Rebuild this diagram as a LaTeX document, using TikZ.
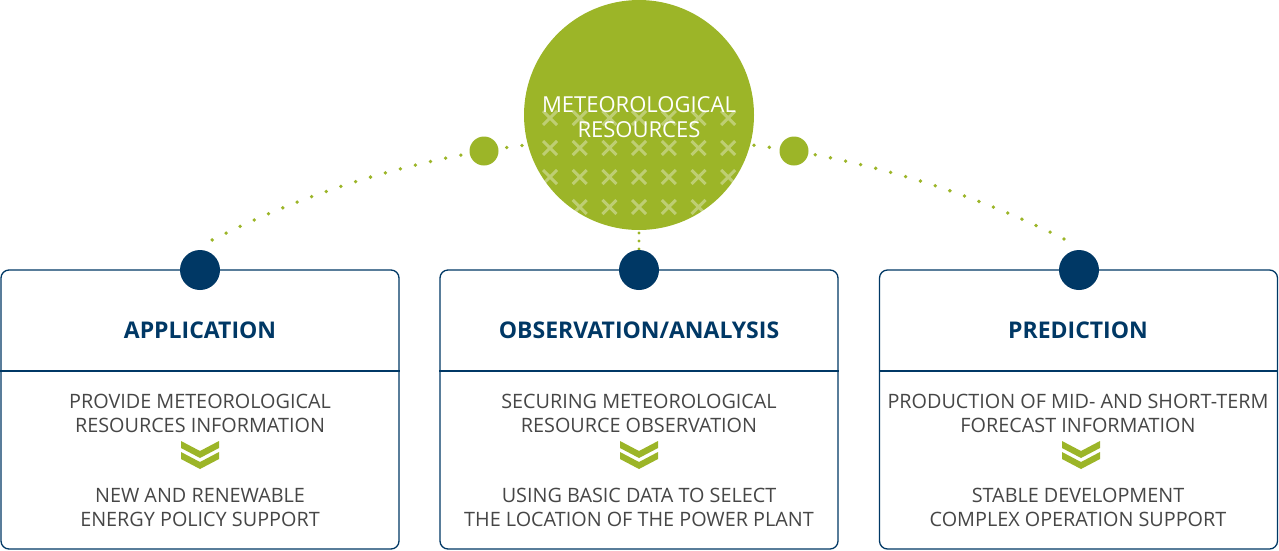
\documentclass[tikz,border=0pt]{standalone}
\usepackage{fontspec}
\setmainfont{Open Sans}
\definecolor{leaf}{RGB}{156,181,40}
\definecolor{navy}{RGB}{0,56,101}
\definecolor{txtgray}{RGB}{70,70,70}
\tikzset{
  card/.style={draw=navy, line width=1.3pt, rounded corners=8pt, fill=white, minimum width=398pt, minimum height=279pt, inner sep=0pt},
  navydot/.style={circle, fill=navy, minimum size=40pt, inner sep=0pt},
  leafdot/.style={circle, fill=leaf, minimum size=29pt, inner sep=0pt},
  bigdot/.style={circle, fill=leaf, minimum size=230pt, inner sep=0pt},
  dotline/.style={draw=leaf, line width=3.8pt, line cap=round, dash pattern=on 0pt off 15.5pt},
  title/.style={anchor=base, text=navy, font=\fontsize{23}{24}\selectfont\bfseries, inner sep=0pt},
  body/.style={anchor=base, text=txtgray, font=\fontsize{19.8}{24}\selectfont, inner sep=0pt},
  ctext/.style={anchor=base, text=white, font=\fontsize{22}{24}\selectfont, inner sep=0pt},
  chev/.style={fill=leaf, draw=none},
  cross/.style={draw=white, draw opacity=0.35, line width=3pt}
}
\begin{document}
\begin{tikzpicture}[x=1pt,y=-1pt]
\useasboundingbox (0,0) rectangle (1279,550);
% dotted arc (behind everything)
\coordinate (arcL) at (212,240);
\coordinate (arcR) at (1068,242);
\draw[dotline] plot[domain=243.2:297, samples=200] ({639+946.6*cos(\x)},{1084.8+946.6*sin(\x)});
% big circle
\node[bigdot] (res) at (639,115) {};
\foreach \r/\y in {0/118,1/148,2/177,3/207}{
  \foreach \i in {0,...,6}{
    \pgfmathsetmacro{\xx}{550+29.7*\i}
    \ifnum\r=3 \ifnum\i>0 \ifnum\i<6
      \draw[cross] (\xx-7,\y-7) -- (\xx+7,\y+7) (\xx-7,\y+7) -- (\xx+7,\y-7);
    \fi\fi
    \else
      \draw[cross] (\xx-7,\y-7) -- (\xx+7,\y+7) (\xx-7,\y+7) -- (\xx+7,\y-7);
    \fi
  }
}
\node[ctext] (res1) at (639,112) {METEOROLOGICAL};
\node[ctext] (res2) at (639,137) {RESOURCES};
% small green dots on arc
\node[leafdot] (gl) at (484,151) {};
\node[leafdot] (gr) at (794,151) {};
% cards
\node[card] (c1) at (200,409.5) {};
\node[card] (c2) at (639,409.5) {};
\node[card] (c3) at (1078.5,409.5) {};
\foreach \c in {c1,c2,c3}{
  \draw[navy, line width=1.3pt] (\c.west |- 0,371) -- (\c.east |- 0,371);
}
% vertical dotted link
\coordinate (vtop) at (639,233);
\coordinate (vbot) at (639,249);
\draw[draw=leaf, line width=3.4pt, line cap=round, dash pattern=on 0pt off 8pt] (vtop) -- (vbot);
% navy dots
\node[navydot] (n1) at (200,270) {};
\node[navydot] (n2) at (639,270) {};
\node[navydot] (n3) at (1079,270) {};
% titles
\node[title] (t1) at (200,338) {APPLICATION};
\node[title] (t2) at (639,338) {OBSERVATION/ANALYSIS};
\node[title] (t3) at (1078,338) {PREDICTION};
% body
\node[body] (a1) at (200,408) {PROVIDE METEOROLOGICAL};
\node[body] (a2) at (200,432) {RESOURCES INFORMATION};
\node[body] (a3) at (200,502) {NEW AND RENEWABLE};
\node[body] (a4) at (200,526) {ENERGY POLICY SUPPORT};
\node[body] (b1) at (639,408) {SECURING METEOROLOGICAL};
\node[body] (b2) at (639,432) {RESOURCE OBSERVATION};
\node[body] (b3) at (639,502) {USING BASIC DATA TO SELECT};
\node[body] (b4) at (639,526) {THE LOCATION OF THE POWER PLANT};
\node[body] (p1) at (1078,408) {PRODUCTION OF MID- AND SHORT-TERM};
\node[body] (p2) at (1078,432) {FORECAST INFORMATION};
\node[body] (p3) at (1078,502) {STABLE DEVELOPMENT};
\node[body] (p4) at (1078,526) {COMPLEX OPERATION SUPPORT};
% chevrons
\foreach \cx in {200,639,1081}{
  \foreach \dy in {0,11}{
    \fill[chev] (\cx-19,441+\dy) -- (\cx,451+\dy) -- (\cx+19,441+\dy) -- (\cx+19,448+\dy) -- (\cx,458+\dy) -- (\cx-19,448+\dy) -- cycle;
  }
}
\end{tikzpicture}
\end{document}
